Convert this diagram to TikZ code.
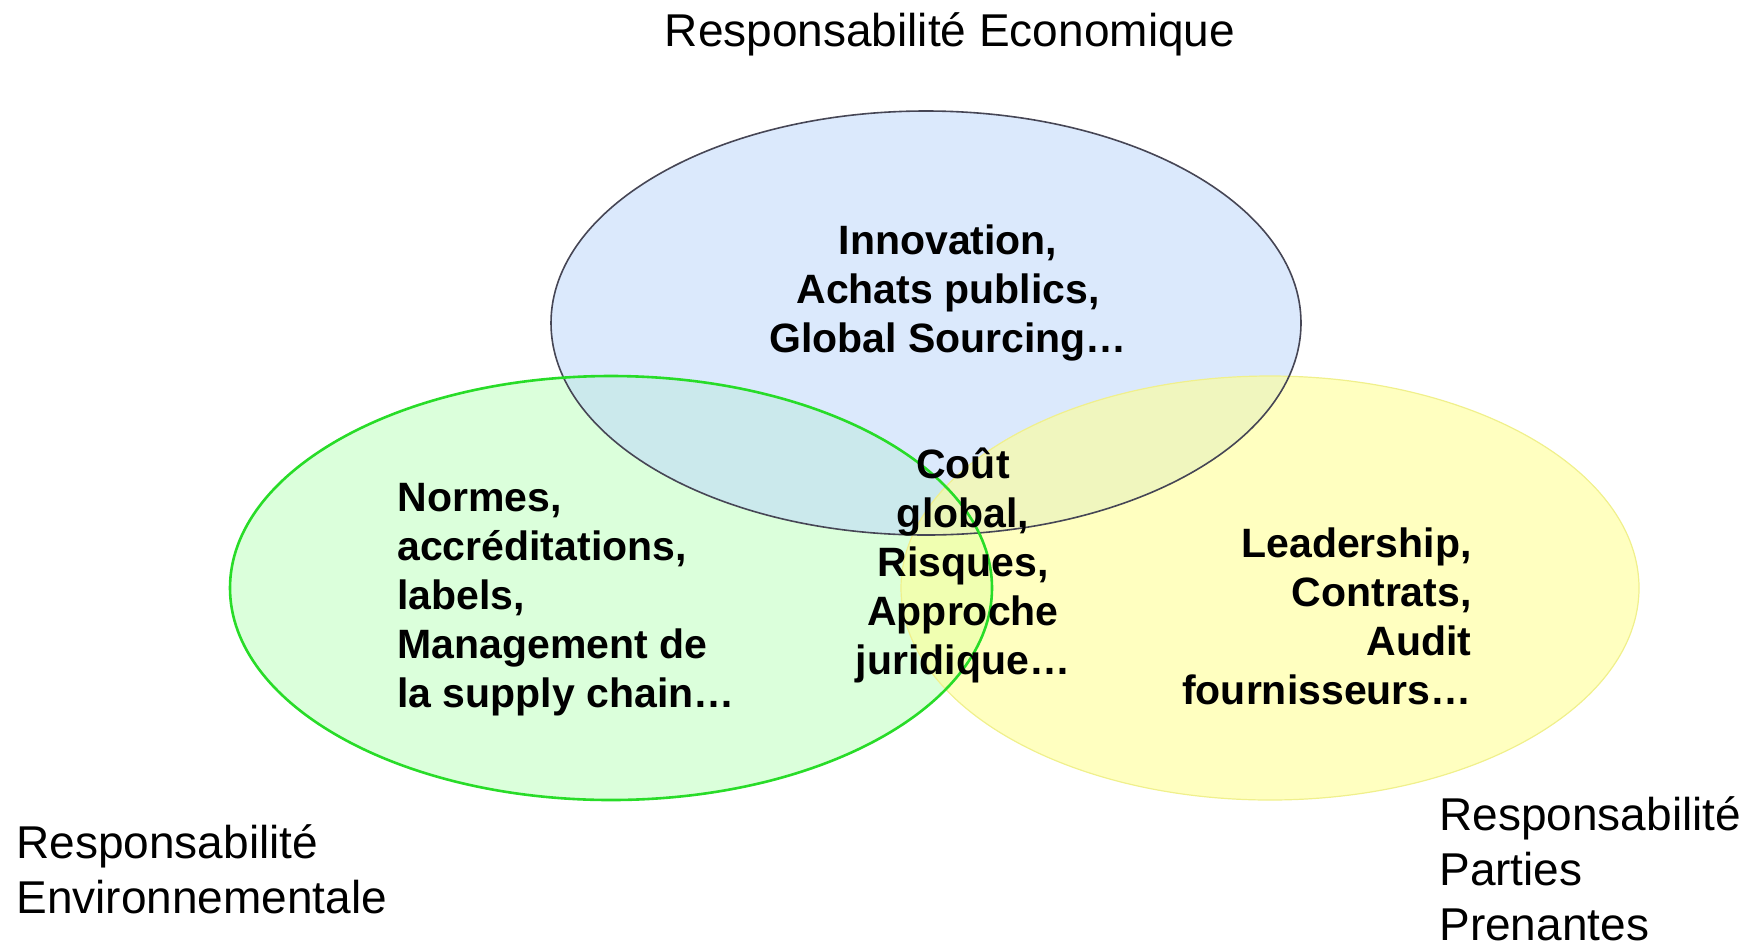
\documentclass[tikz,border=0pt]{standalone}
\usepackage{fontspec}
\setmainfont{Liberation Sans}
\definecolor{ecofill}{RGB}{190,215,250}
\definecolor{ecoline}{RGB}{70,70,85}
\definecolor{envfill}{RGB}{190,255,190}
\definecolor{envline}{RGB}{40,220,40}
\definecolor{ppfill}{RGB}{255,255,150}
\definecolor{ppline}{RGB}{240,240,140}
\begin{document}
\begin{tikzpicture}[x=0.5pt,y=-0.5pt,
  cat/.style={font=\fontsize{23}{27.5}\selectfont,inner sep=0pt},
  item/.style={font=\fontsize{20.5}{24.5}\selectfont\bfseries,inner sep=0pt}]
\useasboundingbox (0,0) rectangle (1755,943);
% the three circles
\fill[envfill,opacity=0.55] (611,588) ellipse [x radius=381,y radius=212];
\fill[ecofill,opacity=0.55] (926,323) ellipse [x radius=375,y radius=212];
\fill[ppfill,opacity=0.6] (1270,588) ellipse [x radius=369,y radius=212];
\draw[ppline,line width=0.6pt] (1270,588) ellipse [x radius=369,y radius=212];
\draw[ecoline,line width=0.8pt] (926,323) ellipse [x radius=375,y radius=212];
\draw[envline,line width=1.3pt] (611,588) ellipse [x radius=381,y radius=212];
% texts
\node[item,align=center] (eco) at (948,293) {Innovation,\\Achats publics,\\Global Sourcing\dots};
\node[item,align=left,anchor=west] (env) at (397,600) {Normes,\\accréditations,\\labels,\\Management de\\la supply chain\dots};
\node[item,align=center] (mid) at (963,565) {Coût\\global,\\Risques,\\Approche\\juridique\dots};
\node[item,align=right,anchor=east] (pp) at (1472,616) {Leadership,\\Contrats,\\Audit\\fournisseurs\dots};
% labels
\node[cat] (ecolbl) at (950,34) {Responsabilité Economique};
\node[cat,align=left,anchor=west] (envlbl) at (16,869) {Responsabilité\\Environnementale};
\node[cat,align=left,anchor=west] (pplbl) at (1439,869) {Responsabilité\\Parties\\Prenantes};
\end{tikzpicture}
\end{document}
